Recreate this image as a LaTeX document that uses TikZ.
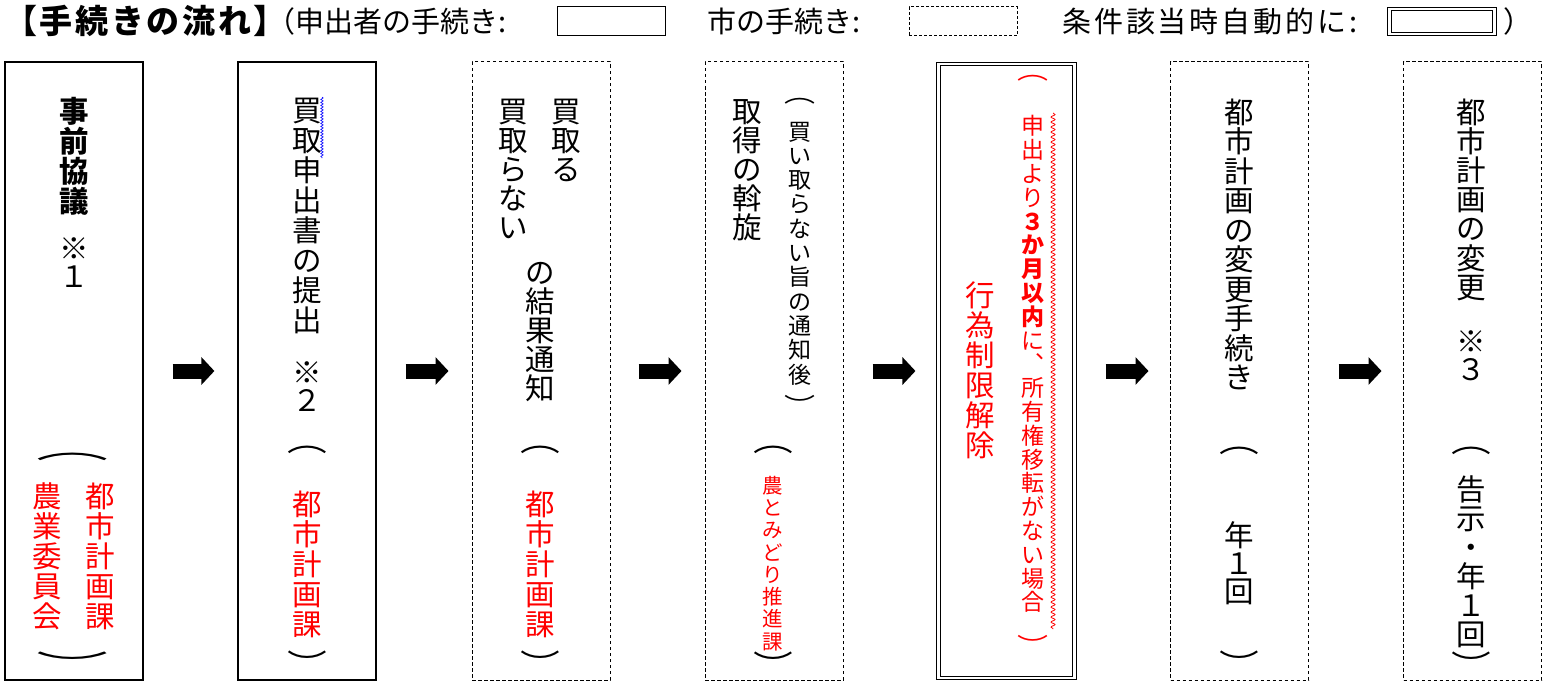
\documentclass[tikz,border=0pt]{standalone}
\usepackage{fontspec}
\usepackage{graphicx}
\setmainfont{Noto Sans CJK JP}
\usetikzlibrary{arrows.meta,decorations.pathmorphing}
\definecolor{tred}{RGB}{255,0,0}
\makeatletter
\newlength\vtp
\newcommand\vt[2]{\vtp=#1\relax\vbox{\offinterlineskip\@tfor\vt@c:=#2\do{\hbox to 1em{\hss\vrule height \dimexpr.88em+(\vtp-1em)/2\relax depth \dimexpr.12em+(\vtp-1em)/2\relax width 0pt\relax\vt@c\hss}}}}
\makeatother
\newcommand\vopen{\scalebox{1.35}[1]{︵}}
\newcommand\vclose{\scalebox{1.35}[1]{︶}}
\tikzset{
 solidbox/.style={draw, line width=1.2pt, minimum width=138pt, minimum height=618pt, inner sep=0pt},
 dashbox/.style={draw, line width=1pt, dash pattern=on 3.5pt off 2.5pt, minimum width=138pt, minimum height=618pt, inner sep=0pt},
 dblbox/.style={draw, double, line width=1.1pt, double distance=2.4pt, minimum width=136pt, minimum height=614pt, inner sep=0pt},
 col/.style={inner sep=0pt, anchor=north},
 brk/.style={inner sep=0pt, anchor=center},
 fbig/.style={font=\fontsize{29.5}{30}\selectfont},
 fmid/.style={font=\fontsize{23}{24}\selectfont},
 fsmall/.style={font=\fontsize{20.5}{22}\selectfont},
 fhead/.style={font=\fontsize{29}{30}\selectfont, inner sep=0pt, anchor=base west},
 redtxt/.style={text=tred},
 blockarrow/.style={line width=15pt, -{Triangle[length=13pt,width=27pt]}},
 legsolid/.style={draw, line width=1pt, minimum width=108pt, minimum height=29pt, inner sep=0pt},
 legdash/.style={draw, line width=1pt, dash pattern=on 3pt off 2pt, minimum width=108pt, minimum height=29pt, inner sep=0pt},
 legdbl/.style={draw, double, line width=1pt, double distance=2.2pt, minimum width=105pt, minimum height=25pt, inner sep=0pt},
 wave/.style={decorate, decoration={snake, amplitude=2pt, segment length=5pt}},
}
\begin{document}
\begin{tikzpicture}[x=1pt,y=-1pt]
\useasboundingbox (0,0) rectangle (1547,685);
% header
\node[fhead, font=\fontsize{33}{34}\selectfont\bfseries\addfontfeatures{LetterSpace=8}] (title) at (4,34) {【手続きの流れ】};
\node[fhead] (h1) at (266,33) {（申出者の手続き:};
\node[legsolid] (l1) at (611,21.5) {};
\node[fhead] (h2) at (707,33) {市の手続き:};
\node[legdash] (l2) at (963,21.5) {};
\node[fhead, font=\fontsize{29}{30}\selectfont\addfontfeatures{LetterSpace=10}] (h3) at (1062,33) {条件該当時自動的に:};
\node[legdbl] (l3) at (1442,21.5) {};
\node[fhead] (h4) at (1503,33) {）};
% boxes
\node[solidbox] (b1) at (74,371) {};
\node[solidbox] (b2) at (307,371) {};
\node[dashbox] (b3) at (541,371) {};
\node[dashbox] (b4) at (774,371) {};
\node[dblbox] (b5) at (1006.5,371) {};
\node[dashbox] (b6) at (1239.5,371) {};
\node[dashbox] (b7) at (1472.5,371) {};
% arrows
\draw[blockarrow] ([xshift=29pt]b1.east) -- ([xshift=-23pt]b2.west);
\draw[blockarrow] ([xshift=29pt]b2.east) -- ([xshift=-23pt]b3.west);
\draw[blockarrow] ([xshift=28pt]b3.east) -- ([xshift=-23pt]b4.west);
\draw[blockarrow] ([xshift=29pt]b4.east) -- ([xshift=-22.5pt]b5.west);
\draw[blockarrow] ([xshift=30.5pt]b5.east) -- ([xshift=-21.5pt]b6.west);
\draw[blockarrow] ([xshift=29.5pt]b6.east) -- ([xshift=-21.5pt]b7.west);
% box 1
\node[col,fbig] (t1a) at (74,96) {\bfseries\vt{30pt}{事前協議}};
\node[col,fbig] (t1b) at (74,234) {\vt{28pt}{※１}};
\node[brk,fbig] (t1c) at (73,457) {\scalebox{2.45}[1]{︵}};
\node[col,fbig,redtxt] (t1d) at (100,481) {\vt{30pt}{都市計画課}};
\node[col,fbig,redtxt] (t1e) at (47,481) {\vt{30pt}{農業委員会}};
\node[brk,fbig] (t1f) at (73,664) {\scalebox{2.45}[1]{︶}};
% box 2
\node[col,fbig] (t2a) at (307,95) {\vt{30pt}{買取申出書の提出}};
\draw[blue, line width=0.6pt, decorate, decoration={snake, amplitude=1.2pt, segment length=3pt}] (322,97) -- (322,158);
\node[col,fbig] (t2b) at (307,358) {\vt{28pt}{※２}};
\node[brk,fbig] (t2c) at (307,450) {\vopen};
\node[col,fbig,redtxt] (t2d) at (307,489) {\vt{30pt}{都市計画課}};
\node[brk,fbig] (t2e) at (307,663) {\vclose};
% box 3
\node[col,fbig] (t3a) at (566,97) {\vt{29pt}{買取る}};
\node[col,fbig] (t3b) at (513,97) {\vt{29pt}{買取らない}};
\node[col,fbig] (t3c) at (540,258) {\vt{29pt}{の結果通知}};
\node[brk,fbig] (t3d) at (540,450) {\vopen};
\node[col,fbig,redtxt] (t3e) at (540,489) {\vt{30pt}{都市計画課}};
\node[brk,fbig] (t3f) at (540,663) {\vclose};
% box 4
\node[col,fbig] (t4a) at (747,97) {\vt{29pt}{取得の斡旋}};
\node[brk,fmid] (t4b) at (800,101) {\vopen};
\node[col,fmid] (t4c) at (800,119) {\vt{24.3pt}{買い取らない旨の通知後}};
\node[brk,fmid] (t4d) at (800,405) {\vclose};
\node[brk,fbig] (t4e) at (773,450) {\vopen};
\node[col,fsmall,redtxt] (t4f) at (773,474) {\vt{22.3pt}{農とみどり推進課}};
\node[brk,fbig] (t4g) at (773,664) {\vclose};
% box 5
\node[brk,fmid,redtxt] (t5a) at (1033,78) {\vopen};
\node[col,fmid,redtxt] (t5b) at (1033,114) {\vt{23.8pt}{申出より{\bfseries ３}{\bfseries か}{\bfseries 月}{\bfseries 以}{\bfseries 内}に︑所有権移転がない場合}};
\node[brk,fmid,redtxt] (t5c) at (1033,645) {\vclose};
\draw[tred, line width=0.8pt, wave] (1053,113) -- (1053,629);
\node[col,fbig,redtxt] (t5d) at (980,280) {\vt{30pt}{行為制限解除}};
% box 6
\node[col,fbig] (t6a) at (1239,97) {\vt{29.5pt}{都市計画の変更手続き}};
\node[brk,fbig] (t6b) at (1239,451) {\vopen};
\node[col,fbig] (t6c) at (1239,521) {\vt{28pt}{年１回}};
\node[brk,fbig] (t6d) at (1239,663) {\vclose};
% box 7
\node[col,fbig] (t7a) at (1471,97) {\vt{29.2pt}{都市計画の変更}};
\node[col,fbig] (t7b) at (1471,327) {\vt{28pt}{※３}};
\node[brk,fbig] (t7c) at (1471,451) {\vopen};
\node[col,fbig] (t7d) at (1471,475) {\vt{29pt}{告示・年１回}};
\node[brk,fbig] (t7e) at (1471,664) {\vclose};
\end{tikzpicture}
\end{document}
